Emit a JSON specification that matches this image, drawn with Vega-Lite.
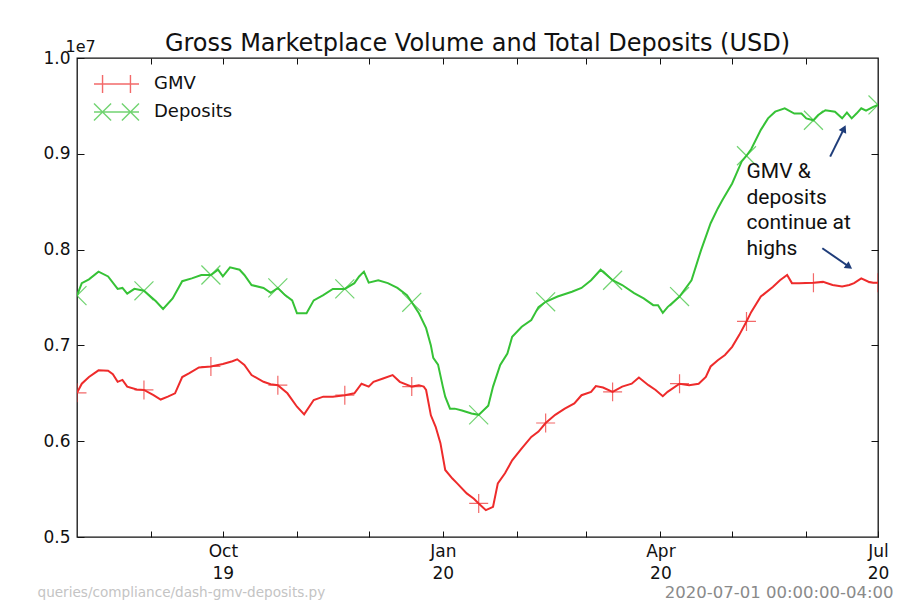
{
  "$schema": "https://vega.github.io/schema/vega-lite/v6.json",
  "width": 801,
  "height": 479,
  "autosize": {"type": "none"},
  "padding": {"left": 77, "top": 58, "right": 35, "bottom": 63},
  "background": "white",
  "title": {"text": "Gross Marketplace Volume and Total Deposits (USD)", "font": "DejaVu Sans", "fontSize": 24, "fontWeight": "normal", "color": "#111111", "offset": -18},
  "config": {
    "view": {"stroke": "#111111", "strokeWidth": 1.3},
    "font": "DejaVu Sans",
    "axis": {"labelFont": "DejaVu Sans", "labelFontSize": 17, "labelColor": "#111111", "tickColor": "#111111", "tickWidth": 1, "domain": false, "grid": false, "labelFlush": false, "labelOverlap": false, "labelBound": false, "titleFont": "DejaVu Sans", "titleFontWeight": "normal"},
    "legend": {"title": null, "orient": "none", "legendX": 16, "legendY": 12, "padding": 0, "symbolSize": 2025, "clipHeight": 28, "rowPadding": 0, "labelFont": "DejaVu Sans", "labelFontSize": 18, "labelColor": "#111111", "labelOffset": 14, "symbolStrokeWidth": 1.4, "symbolFillColor": "transparent"}
  },
  "data": {
    "format": {"parse": {"date": "date"}},
    "values": [
      {"date": "2019-08-01", "series": "Deposits", "value": 7520000},
      {"date": "2019-08-03", "series": "Deposits", "value": 7650000},
      {"date": "2019-08-06", "series": "Deposits", "value": 7690000},
      {"date": "2019-08-10", "series": "Deposits", "value": 7770000},
      {"date": "2019-08-14", "series": "Deposits", "value": 7720000},
      {"date": "2019-08-18", "series": "Deposits", "value": 7590000},
      {"date": "2019-08-20", "series": "Deposits", "value": 7600000},
      {"date": "2019-08-22", "series": "Deposits", "value": 7540000},
      {"date": "2019-08-25", "series": "Deposits", "value": 7590000},
      {"date": "2019-08-29", "series": "Deposits", "value": 7570000},
      {"date": "2019-09-03", "series": "Deposits", "value": 7460000},
      {"date": "2019-09-06", "series": "Deposits", "value": 7380000},
      {"date": "2019-09-10", "series": "Deposits", "value": 7490000},
      {"date": "2019-09-14", "series": "Deposits", "value": 7670000},
      {"date": "2019-09-18", "series": "Deposits", "value": 7700000},
      {"date": "2019-09-22", "series": "Deposits", "value": 7735000},
      {"date": "2019-09-26", "series": "Deposits", "value": 7735000},
      {"date": "2019-09-29", "series": "Deposits", "value": 7790000},
      {"date": "2019-10-01", "series": "Deposits", "value": 7720000},
      {"date": "2019-10-04", "series": "Deposits", "value": 7815000},
      {"date": "2019-10-08", "series": "Deposits", "value": 7790000},
      {"date": "2019-10-10", "series": "Deposits", "value": 7735000},
      {"date": "2019-10-13", "series": "Deposits", "value": 7630000},
      {"date": "2019-10-18", "series": "Deposits", "value": 7600000},
      {"date": "2019-10-21", "series": "Deposits", "value": 7550000},
      {"date": "2019-10-24", "series": "Deposits", "value": 7600000},
      {"date": "2019-10-27", "series": "Deposits", "value": 7525000},
      {"date": "2019-10-30", "series": "Deposits", "value": 7470000},
      {"date": "2019-11-01", "series": "Deposits", "value": 7335000},
      {"date": "2019-11-05", "series": "Deposits", "value": 7335000},
      {"date": "2019-11-08", "series": "Deposits", "value": 7470000},
      {"date": "2019-11-12", "series": "Deposits", "value": 7525000},
      {"date": "2019-11-16", "series": "Deposits", "value": 7590000},
      {"date": "2019-11-21", "series": "Deposits", "value": 7590000},
      {"date": "2019-11-25", "series": "Deposits", "value": 7650000},
      {"date": "2019-11-27", "series": "Deposits", "value": 7720000},
      {"date": "2019-11-29", "series": "Deposits", "value": 7770000},
      {"date": "2019-12-01", "series": "Deposits", "value": 7655000},
      {"date": "2019-12-05", "series": "Deposits", "value": 7680000},
      {"date": "2019-12-09", "series": "Deposits", "value": 7650000},
      {"date": "2019-12-13", "series": "Deposits", "value": 7600000},
      {"date": "2019-12-17", "series": "Deposits", "value": 7525000},
      {"date": "2019-12-19", "series": "Deposits", "value": 7450000},
      {"date": "2019-12-22", "series": "Deposits", "value": 7335000},
      {"date": "2019-12-25", "series": "Deposits", "value": 7180000},
      {"date": "2019-12-27", "series": "Deposits", "value": 7000000},
      {"date": "2019-12-28", "series": "Deposits", "value": 6870000},
      {"date": "2019-12-30", "series": "Deposits", "value": 6800000},
      {"date": "2020-01-01", "series": "Deposits", "value": 6570000},
      {"date": "2020-01-02", "series": "Deposits", "value": 6465000},
      {"date": "2020-01-04", "series": "Deposits", "value": 6340000},
      {"date": "2020-01-06", "series": "Deposits", "value": 6340000},
      {"date": "2020-01-09", "series": "Deposits", "value": 6320000},
      {"date": "2020-01-13", "series": "Deposits", "value": 6290000},
      {"date": "2020-01-16", "series": "Deposits", "value": 6275000},
      {"date": "2020-01-20", "series": "Deposits", "value": 6370000},
      {"date": "2020-01-22", "series": "Deposits", "value": 6570000},
      {"date": "2020-01-25", "series": "Deposits", "value": 6795000},
      {"date": "2020-01-28", "series": "Deposits", "value": 6915000},
      {"date": "2020-01-30", "series": "Deposits", "value": 7090000},
      {"date": "2020-02-03", "series": "Deposits", "value": 7195000},
      {"date": "2020-02-07", "series": "Deposits", "value": 7265000},
      {"date": "2020-02-10", "series": "Deposits", "value": 7400000},
      {"date": "2020-02-13", "series": "Deposits", "value": 7455000},
      {"date": "2020-02-18", "series": "Deposits", "value": 7510000},
      {"date": "2020-02-24", "series": "Deposits", "value": 7560000},
      {"date": "2020-02-28", "series": "Deposits", "value": 7600000},
      {"date": "2020-03-03", "series": "Deposits", "value": 7680000},
      {"date": "2020-03-07", "series": "Deposits", "value": 7790000},
      {"date": "2020-03-12", "series": "Deposits", "value": 7680000},
      {"date": "2020-03-16", "series": "Deposits", "value": 7630000},
      {"date": "2020-03-21", "series": "Deposits", "value": 7545000},
      {"date": "2020-03-25", "series": "Deposits", "value": 7490000},
      {"date": "2020-03-29", "series": "Deposits", "value": 7420000},
      {"date": "2020-03-31", "series": "Deposits", "value": 7420000},
      {"date": "2020-04-02", "series": "Deposits", "value": 7340000},
      {"date": "2020-04-04", "series": "Deposits", "value": 7400000},
      {"date": "2020-04-09", "series": "Deposits", "value": 7510000},
      {"date": "2020-04-14", "series": "Deposits", "value": 7680000},
      {"date": "2020-04-18", "series": "Deposits", "value": 7995000},
      {"date": "2020-04-22", "series": "Deposits", "value": 8275000},
      {"date": "2020-04-25", "series": "Deposits", "value": 8430000},
      {"date": "2020-04-27", "series": "Deposits", "value": 8520000},
      {"date": "2020-05-01", "series": "Deposits", "value": 8690000},
      {"date": "2020-05-05", "series": "Deposits", "value": 8920000},
      {"date": "2020-05-07", "series": "Deposits", "value": 8980000},
      {"date": "2020-05-09", "series": "Deposits", "value": 9050000},
      {"date": "2020-05-13", "series": "Deposits", "value": 9250000},
      {"date": "2020-05-16", "series": "Deposits", "value": 9370000},
      {"date": "2020-05-19", "series": "Deposits", "value": 9440000},
      {"date": "2020-05-23", "series": "Deposits", "value": 9475000},
      {"date": "2020-05-27", "series": "Deposits", "value": 9420000},
      {"date": "2020-05-30", "series": "Deposits", "value": 9420000},
      {"date": "2020-06-01", "series": "Deposits", "value": 9370000},
      {"date": "2020-06-04", "series": "Deposits", "value": 9350000},
      {"date": "2020-06-06", "series": "Deposits", "value": 9405000},
      {"date": "2020-06-09", "series": "Deposits", "value": 9455000},
      {"date": "2020-06-13", "series": "Deposits", "value": 9440000},
      {"date": "2020-06-16", "series": "Deposits", "value": 9370000},
      {"date": "2020-06-18", "series": "Deposits", "value": 9430000},
      {"date": "2020-06-20", "series": "Deposits", "value": 9370000},
      {"date": "2020-06-22", "series": "Deposits", "value": 9420000},
      {"date": "2020-06-24", "series": "Deposits", "value": 9475000},
      {"date": "2020-06-26", "series": "Deposits", "value": 9450000},
      {"date": "2020-06-29", "series": "Deposits", "value": 9490000},
      {"date": "2020-07-01", "series": "Deposits", "value": 9510000},
      {"date": "2019-08-01", "series": "GMV", "value": 6505000},
      {"date": "2019-08-03", "series": "GMV", "value": 6600000},
      {"date": "2019-08-06", "series": "GMV", "value": 6670000},
      {"date": "2019-08-10", "series": "GMV", "value": 6740000},
      {"date": "2019-08-14", "series": "GMV", "value": 6735000},
      {"date": "2019-08-16", "series": "GMV", "value": 6700000},
      {"date": "2019-08-18", "series": "GMV", "value": 6620000},
      {"date": "2019-08-20", "series": "GMV", "value": 6640000},
      {"date": "2019-08-22", "series": "GMV", "value": 6570000},
      {"date": "2019-08-26", "series": "GMV", "value": 6540000},
      {"date": "2019-08-29", "series": "GMV", "value": 6535000},
      {"date": "2019-09-02", "series": "GMV", "value": 6480000},
      {"date": "2019-09-05", "series": "GMV", "value": 6435000},
      {"date": "2019-09-08", "series": "GMV", "value": 6465000},
      {"date": "2019-09-11", "series": "GMV", "value": 6500000},
      {"date": "2019-09-14", "series": "GMV", "value": 6670000},
      {"date": "2019-09-17", "series": "GMV", "value": 6710000},
      {"date": "2019-09-21", "series": "GMV", "value": 6770000},
      {"date": "2019-09-26", "series": "GMV", "value": 6780000},
      {"date": "2019-10-01", "series": "GMV", "value": 6805000},
      {"date": "2019-10-05", "series": "GMV", "value": 6835000},
      {"date": "2019-10-07", "series": "GMV", "value": 6855000},
      {"date": "2019-10-10", "series": "GMV", "value": 6795000},
      {"date": "2019-10-13", "series": "GMV", "value": 6690000},
      {"date": "2019-10-18", "series": "GMV", "value": 6620000},
      {"date": "2019-10-21", "series": "GMV", "value": 6595000},
      {"date": "2019-10-24", "series": "GMV", "value": 6585000},
      {"date": "2019-10-28", "series": "GMV", "value": 6500000},
      {"date": "2019-11-01", "series": "GMV", "value": 6360000},
      {"date": "2019-11-04", "series": "GMV", "value": 6280000},
      {"date": "2019-11-08", "series": "GMV", "value": 6430000},
      {"date": "2019-11-12", "series": "GMV", "value": 6465000},
      {"date": "2019-11-16", "series": "GMV", "value": 6465000},
      {"date": "2019-11-21", "series": "GMV", "value": 6480000},
      {"date": "2019-11-25", "series": "GMV", "value": 6500000},
      {"date": "2019-11-28", "series": "GMV", "value": 6600000},
      {"date": "2019-12-01", "series": "GMV", "value": 6570000},
      {"date": "2019-12-03", "series": "GMV", "value": 6620000},
      {"date": "2019-12-07", "series": "GMV", "value": 6655000},
      {"date": "2019-12-11", "series": "GMV", "value": 6690000},
      {"date": "2019-12-14", "series": "GMV", "value": 6620000},
      {"date": "2019-12-19", "series": "GMV", "value": 6570000},
      {"date": "2019-12-22", "series": "GMV", "value": 6585000},
      {"date": "2019-12-24", "series": "GMV", "value": 6570000},
      {"date": "2019-12-25", "series": "GMV", "value": 6535000},
      {"date": "2019-12-27", "series": "GMV", "value": 6270000},
      {"date": "2019-12-29", "series": "GMV", "value": 6150000},
      {"date": "2019-12-31", "series": "GMV", "value": 5980000},
      {"date": "2020-01-02", "series": "GMV", "value": 5700000},
      {"date": "2020-01-05", "series": "GMV", "value": 5610000},
      {"date": "2020-01-07", "series": "GMV", "value": 5560000},
      {"date": "2020-01-11", "series": "GMV", "value": 5455000},
      {"date": "2020-01-14", "series": "GMV", "value": 5400000},
      {"date": "2020-01-16", "series": "GMV", "value": 5350000},
      {"date": "2020-01-19", "series": "GMV", "value": 5280000},
      {"date": "2020-01-22", "series": "GMV", "value": 5315000},
      {"date": "2020-01-24", "series": "GMV", "value": 5560000},
      {"date": "2020-01-27", "series": "GMV", "value": 5665000},
      {"date": "2020-01-30", "series": "GMV", "value": 5800000},
      {"date": "2020-02-03", "series": "GMV", "value": 5925000},
      {"date": "2020-02-07", "series": "GMV", "value": 6045000},
      {"date": "2020-02-10", "series": "GMV", "value": 6100000},
      {"date": "2020-02-13", "series": "GMV", "value": 6190000},
      {"date": "2020-02-17", "series": "GMV", "value": 6275000},
      {"date": "2020-02-21", "series": "GMV", "value": 6340000},
      {"date": "2020-02-25", "series": "GMV", "value": 6395000},
      {"date": "2020-02-28", "series": "GMV", "value": 6480000},
      {"date": "2020-03-03", "series": "GMV", "value": 6515000},
      {"date": "2020-03-05", "series": "GMV", "value": 6575000},
      {"date": "2020-03-08", "series": "GMV", "value": 6560000},
      {"date": "2020-03-12", "series": "GMV", "value": 6515000},
      {"date": "2020-03-16", "series": "GMV", "value": 6570000},
      {"date": "2020-03-20", "series": "GMV", "value": 6600000},
      {"date": "2020-03-23", "series": "GMV", "value": 6665000},
      {"date": "2020-03-27", "series": "GMV", "value": 6585000},
      {"date": "2020-03-30", "series": "GMV", "value": 6535000},
      {"date": "2020-04-02", "series": "GMV", "value": 6470000},
      {"date": "2020-04-04", "series": "GMV", "value": 6515000},
      {"date": "2020-04-09", "series": "GMV", "value": 6600000},
      {"date": "2020-04-13", "series": "GMV", "value": 6585000},
      {"date": "2020-04-17", "series": "GMV", "value": 6600000},
      {"date": "2020-04-20", "series": "GMV", "value": 6670000},
      {"date": "2020-04-22", "series": "GMV", "value": 6780000},
      {"date": "2020-04-25", "series": "GMV", "value": 6845000},
      {"date": "2020-04-28", "series": "GMV", "value": 6900000},
      {"date": "2020-05-01", "series": "GMV", "value": 6985000},
      {"date": "2020-05-04", "series": "GMV", "value": 7110000},
      {"date": "2020-05-07", "series": "GMV", "value": 7250000},
      {"date": "2020-05-09", "series": "GMV", "value": 7350000},
      {"date": "2020-05-13", "series": "GMV", "value": 7510000},
      {"date": "2020-05-18", "series": "GMV", "value": 7610000},
      {"date": "2020-05-21", "series": "GMV", "value": 7680000},
      {"date": "2020-05-24", "series": "GMV", "value": 7735000},
      {"date": "2020-05-26", "series": "GMV", "value": 7650000},
      {"date": "2020-05-29", "series": "GMV", "value": 7650000},
      {"date": "2020-06-04", "series": "GMV", "value": 7655000},
      {"date": "2020-06-08", "series": "GMV", "value": 7665000},
      {"date": "2020-06-12", "series": "GMV", "value": 7630000},
      {"date": "2020-06-16", "series": "GMV", "value": 7615000},
      {"date": "2020-06-19", "series": "GMV", "value": 7630000},
      {"date": "2020-06-21", "series": "GMV", "value": 7650000},
      {"date": "2020-06-24", "series": "GMV", "value": 7700000},
      {"date": "2020-06-27", "series": "GMV", "value": 7665000},
      {"date": "2020-06-29", "series": "GMV", "value": 7655000},
      {"date": "2020-07-01", "series": "GMV", "value": 7655000}
    ]
  },
  "resolve": {"axis": {"x": "independent", "y": "independent"}},
  "layer": [
    {
      "mark": {"type": "line", "strokeWidth": 2, "clip": true},
      "encoding": {
        "x": {
          "field": "date", "type": "temporal",
          "scale": {"type": "utc", "domain": [{"year": 2019, "month": 8, "date": 1, "utc": true}, {"year": 2020, "month": 7, "date": 1, "utc": true}]},
          "axis": {
            "orient": "bottom",
            "values": [
              {"year": 2019, "month": 9, "date": 1, "utc": true},
              {"year": 2019, "month": 10, "date": 1, "utc": true},
              {"year": 2019, "month": 11, "date": 1, "utc": true},
              {"year": 2019, "month": 12, "date": 1, "utc": true},
              {"year": 2020, "month": 1, "date": 1, "utc": true},
              {"year": 2020, "month": 2, "date": 1, "utc": true},
              {"year": 2020, "month": 3, "date": 1, "utc": true},
              {"year": 2020, "month": 4, "date": 1, "utc": true},
              {"year": 2020, "month": 5, "date": 1, "utc": true},
              {"year": 2020, "month": 6, "date": 1, "utc": true},
              {"year": 2020, "month": 7, "date": 1, "utc": true}
            ],
            "labelExpr": "utcmonth(datum.value) % 3 == 0 ? [utcFormat(datum.value, '%b'), utcFormat(datum.value, '%y')] : ''",
            "tickSize": -6,
            "labelPadding": 12,
            "labelLineHeight": 22,
            "title": "queries/compliance/dash-gmv-deposits.py",
            "titleX": -40, "titleY": 55, "titleAlign": "left", "titleBaseline": "middle",
            "titleFontSize": 13.6, "titleColor": "#c4c4c4"
          }
        },
        "y": {
          "field": "value", "type": "quantitative",
          "scale": {"domain": [5000000, 10000000], "nice": false, "zero": false},
          "axis": {
            "orient": "left",
            "values": [5000000, 6000000, 7000000, 8000000, 9000000, 10000000],
            "labelExpr": "format(datum.value / 10000000, '.1f')",
            "tickSize": -7,
            "labelPadding": 14,
            "title": "1e7", "titleAngle": 0, "titleX": -12, "titleY": -4, "titleAlign": "left", "titleBaseline": "bottom",
            "titleFontSize": 16, "titleColor": "#111111"
          }
        },
        "color": {
          "field": "series", "type": "nominal",
          "scale": {"domain": ["GMV", "Deposits"], "range": ["#ee2b2b", "#36c236"]}
        }
      }
    },
    {
      "transform": [
        {"filter": "datum.series === 'GMV' && indexof(['2019-08-01','2019-08-29','2019-09-26','2019-10-24','2019-11-21','2019-12-19','2020-01-16','2020-02-13','2020-03-12','2020-04-09','2020-05-07','2020-06-04','2020-07-01'], utcFormat(datum.date, '%Y-%m-%d')) >= 0"}
      ],
      "mark": {"type": "point", "shape": "M-1,0H1M0,-1V1", "filled": false, "strokeWidth": 1.2, "size": 360, "opacity": 0.7, "color": "#ee2b2b", "clip": true},
      "encoding": {
        "x": {
          "field": "date", "type": "temporal",
          "axis": {
            "orient": "top",
            "values": [
              {"year": 2019, "month": 9, "date": 1, "utc": true},
              {"year": 2019, "month": 10, "date": 1, "utc": true},
              {"year": 2019, "month": 11, "date": 1, "utc": true},
              {"year": 2019, "month": 12, "date": 1, "utc": true},
              {"year": 2020, "month": 1, "date": 1, "utc": true},
              {"year": 2020, "month": 2, "date": 1, "utc": true},
              {"year": 2020, "month": 3, "date": 1, "utc": true},
              {"year": 2020, "month": 4, "date": 1, "utc": true},
              {"year": 2020, "month": 5, "date": 1, "utc": true},
              {"year": 2020, "month": 6, "date": 1, "utc": true}
            ],
            "labels": false, "tickSize": -6, "title": null
          }
        },
        "y": {
          "field": "value", "type": "quantitative",
          "axis": {
            "orient": "right",
            "values": [6000000, 7000000, 8000000, 9000000],
            "labels": false, "tickSize": -7,
            "title": "2020-07-01 00:00:00-04:00", "titleAngle": 0, "titleX": 15, "titleY": 534, "titleAlign": "right", "titleBaseline": "middle",
            "titleFontSize": 16.5, "titleColor": "#8a8a8a"
          }
        }
      }
    },
    {
      "transform": [
        {"filter": "datum.series === 'Deposits' && indexof(['2019-08-01','2019-08-29','2019-09-26','2019-10-24','2019-11-21','2019-12-19','2020-01-16','2020-02-13','2020-03-12','2020-04-09','2020-05-07','2020-06-04','2020-07-01'], utcFormat(datum.date, '%Y-%m-%d')) >= 0"}
      ],
      "mark": {"type": "point", "shape": "M-1,-1L1,1M-1,1L1,-1", "filled": false, "strokeWidth": 1.2, "size": 360, "opacity": 0.7, "color": "#36c236", "clip": true},
      "encoding": {
        "x": {"field": "date", "type": "temporal", "axis": null},
        "y": {"field": "value", "type": "quantitative", "axis": null}
      }
    },
    {
      "transform": [{"filter": "false"}],
      "mark": {"type": "point", "filled": false, "strokeWidth": 1.4},
      "encoding": {
        "x": {"field": "date", "type": "temporal", "axis": null},
        "y": {"field": "value", "type": "quantitative", "axis": null},
        "color": {"field": "series", "type": "nominal"},
        "shape": {
          "field": "series", "type": "nominal",
          "scale": {"domain": ["GMV", "Deposits"], "range": ["M-1,0H1M-0.62,-0.4V0.4M0.62,-0.4V0.4", "M-1,0H1M-1,-0.38L-0.24,0.38M-1,0.38L-0.24,-0.38M0.24,-0.38L1,0.38M0.24,0.38L1,-0.38"]}
        }
      }
    },
    {
      "data": {"values": [{}]},
      "mark": {"type": "text", "font": "Roboto", "fontSize": 21, "fontWeight": "normal", "lineHeight": 25.7, "align": "left", "baseline": "alphabetic", "fill": "#111111"},
      "encoding": {
        "x": {"datum": {"year": 2020, "month": 5, "date": 7, "utc": true}, "type": "temporal", "axis": null},
        "y": {"datum": 8747000, "type": "quantitative", "axis": null},
        "text": {"value": ["GMV &", "deposits", "continue at", "highs"]}
      }
    },
    {
      "data": {"values": [{}]},
      "mark": {"type": "rule", "strokeWidth": 2, "color": "#1f3d7a"},
      "encoding": {
        "x": {"datum": {"year": 2020, "month": 6, "date": 11, "utc": true}, "type": "temporal", "axis": null},
        "y": {"datum": 8970000, "type": "quantitative", "axis": null},
        "x2": {"datum": {"year": 2020, "month": 6, "date": 16, "hours": 19, "utc": true}},
        "y2": {"datum": 9263000}
      }
    },
    {
      "data": {"values": [{}]},
      "mark": {"type": "rule", "strokeWidth": 2, "color": "#1f3d7a"},
      "encoding": {
        "x": {"datum": {"year": 2020, "month": 6, "date": 7, "hours": 17, "utc": true}, "type": "temporal", "axis": null},
        "y": {"datum": 8014000, "type": "quantitative", "axis": null},
        "x2": {"datum": {"year": 2020, "month": 6, "date": 18, "hours": 22, "utc": true}},
        "y2": {"datum": 7821500}
      }
    },
    {
      "data": {"values": [{}]},
      "mark": {"type": "point", "shape": "triangle-up", "filled": true, "size": 70, "color": "#1f3d7a", "opacity": 1, "angle": 26},
      "encoding": {
        "x": {"datum": {"year": 2020, "month": 6, "date": 16, "hours": 19, "utc": true}, "type": "temporal", "axis": null},
        "y": {"datum": 9263000, "type": "quantitative", "axis": null}
      }
    },
    {
      "data": {"values": [{}]},
      "mark": {"type": "point", "shape": "triangle-up", "filled": true, "size": 70, "color": "#1f3d7a", "opacity": 1, "angle": 125},
      "encoding": {
        "x": {"datum": {"year": 2020, "month": 6, "date": 18, "hours": 22, "utc": true}, "type": "temporal", "axis": null},
        "y": {"datum": 7821500, "type": "quantitative", "axis": null}
      }
    }
  ]
}
